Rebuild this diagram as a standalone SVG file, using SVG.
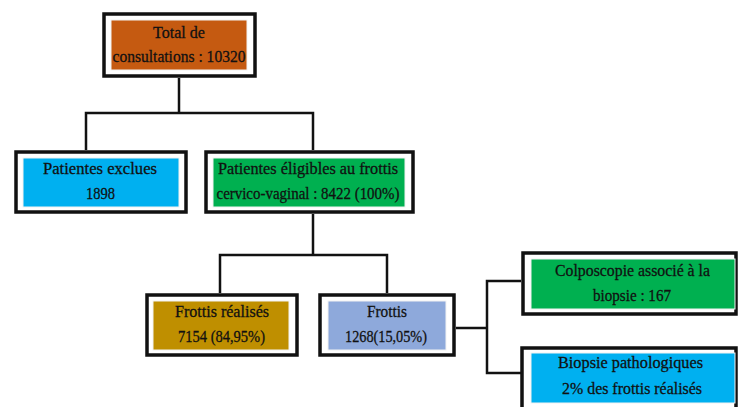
<svg xmlns="http://www.w3.org/2000/svg" width="739" height="407" viewBox="0 0 739 407">
<style>
.frame{fill:#fff;stroke:#111;stroke-width:3.5}
.fill{stroke:#f2f2f2;stroke-width:1}
.t{font-family:"Liberation Serif","Times New Roman",serif;font-size:17px;fill:#111;stroke:#111;stroke-width:0.3;text-anchor:middle}
.conn{fill:none;stroke:#111;stroke-width:2.5}
</style>
<rect width="739" height="407" fill="#fff"/>
<g id="connectors">
<path class="conn" d="M179 78 V113 M86 150 V113 H313 V150"/>
<path class="conn" d="M313 214 V255 M220 293 V255 H387 V293"/>
<path class="conn" d="M456 328 H487 M521 281 H487 V373 H521"/>
</g>
<g id="total">
<rect class="frame" x="104" y="14" width="151" height="62"/>
<rect class="fill" x="111" y="20" width="136" height="50" fill="#C55A11"/>
<text class="t" x="179" y="38" textLength="52" lengthAdjust="spacingAndGlyphs">Total de</text>
<text class="t" x="179" y="62" textLength="133" lengthAdjust="spacingAndGlyphs">consultations : 10320</text>
</g>
<g id="exclues">
<rect class="frame" x="16" y="152" width="170" height="60"/>
<rect class="fill" x="23" y="158" width="156" height="49" fill="#00B0F0"/>
<text class="t" x="100" y="174" textLength="114" lengthAdjust="spacingAndGlyphs">Patientes exclues</text>
<text class="t" x="100.5" y="199" textLength="29" lengthAdjust="spacingAndGlyphs">1898</text>
</g>
<g id="eligibles">
<rect class="frame" x="206" y="152" width="207" height="60"/>
<rect class="fill" x="213" y="158" width="192" height="49" fill="#00B050"/>
<text class="t" x="308" y="174" textLength="180" lengthAdjust="spacingAndGlyphs">Patientes éligibles au frottis</text>
<text class="t" x="308" y="199" textLength="183" lengthAdjust="spacingAndGlyphs">cervico-vaginal : 8422 (100%)</text>
</g>
<g id="realises">
<rect class="frame" x="147" y="295" width="150" height="60"/>
<rect class="fill" x="153" y="301" width="136" height="49" fill="#BF8F00"/>
<text class="t" x="222" y="317" textLength="94" lengthAdjust="spacingAndGlyphs">Frottis réalisés</text>
<text class="t" x="221.5" y="342" textLength="87" lengthAdjust="spacingAndGlyphs">7154 (84,95%)</text>
</g>
<g id="frottis">
<rect class="frame" x="320" y="295" width="134" height="60"/>
<rect class="fill" x="328" y="301" width="118" height="49" fill="#8EA9DB"/>
<text class="t" x="387" y="317" textLength="40" lengthAdjust="spacingAndGlyphs">Frottis</text>
<text class="t" x="386" y="342" textLength="82" lengthAdjust="spacingAndGlyphs">1268(15,05%)</text>
</g>
<g id="colposcopie">
<rect class="frame" x="523" y="253" width="213" height="61"/>
<rect class="fill" x="531" y="259" width="204" height="50" fill="#00B050"/>
<text class="t" x="632.5" y="276" textLength="155" lengthAdjust="spacingAndGlyphs">Colposcopie associé à la</text>
<text class="t" x="632" y="301" textLength="78" lengthAdjust="spacingAndGlyphs">biopsie : 167</text>
</g>
<g id="biopsie">
<rect class="frame" x="522" y="348" width="214" height="70"/>
<rect class="fill" x="531" y="353" width="204" height="50" fill="#00B0F0"/>
<text class="t" x="630.5" y="368" textLength="145" lengthAdjust="spacingAndGlyphs">Biopsie pathologiques</text>
<text class="t" x="632" y="394" textLength="140" lengthAdjust="spacingAndGlyphs">2% des frottis réalisés</text>
</g>
</svg>
